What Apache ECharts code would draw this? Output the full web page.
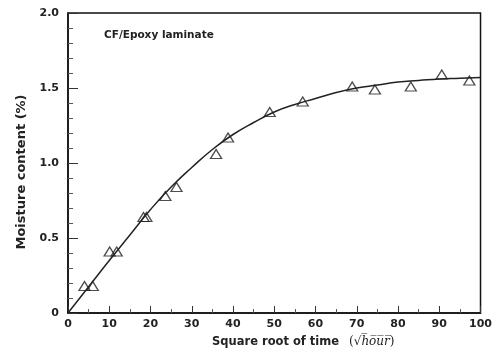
<!DOCTYPE html>
<html><head><meta charset="utf-8">
<script src="https://cdn.jsdelivr.net/npm/echarts@6/dist/echarts.min.js"></script>
<style>html,body{margin:0;padding:0;background:#fff}#c{width:495px;height:354px}</style>
</head><body><div id="c"></div>
<script>
// measured data (square root of time, moisture content %)
var dataX = [4, 6, 10.1, 11.8, 18.3, 19, 23.6, 26.3, 35.9, 38.8, 48.9, 56.9, 68.9, 74.4, 83.1, 90.6, 97.3];
var dataY = [0.18, 0.18, 0.41, 0.41, 0.64, 0.64, 0.78, 0.84, 1.06, 1.17, 1.34, 1.41, 1.51, 1.49, 1.51, 1.59, 1.55];
// fitted curve
var curveX = [0, 5, 10, 15, 20, 25, 30, 35, 40, 45, 50, 55, 60, 65, 70, 75, 80, 85, 90, 95, 100];
var curveY = [0, 0.175, 0.35, 0.52, 0.69, 0.84, 0.97, 1.09, 1.19, 1.27, 1.34, 1.39, 1.43, 1.47, 1.50, 1.52, 1.54, 1.55, 1.56, 1.565, 1.57];
var xTicks = [0, 10, 20, 30, 40, 50, 60, 70, 80, 90, 100];
var yTicks = ['0', '0.5', '1.0', '1.5', '2.0'];

var pts = dataX.map(function (x, i) { return [x, dataY[i]]; });
var curve = curveX.map(function (x, i) { return [x, curveY[i]]; });
var font = 'DejaVu Sans';
var chart = echarts.init(document.getElementById('c'));
chart.setOption({
  animation: false,
  backgroundColor: '#fff',
  grid: { left: 68, right: 11, top: 13, bottom: 41, show: true, borderColor: '#111', borderWidth: 1.5 },
  title: { text: 'CF/Epoxy laminate', left: 99, top: 25,
    textStyle: { fontFamily: font, fontWeight: 'bold', fontSize: 10.5, color: '#222' } },
  xAxis: {
    type: 'value', min: 0, max: 100, interval: 10,
    axisLine: { lineStyle: { color: '#111', width: 1.5 } },
    axisTick: { inside: true, length: 7, lineStyle: { color: '#333' } },
    minorTick: { show: true, splitNumber: 2, length: 4, lineStyle: { color: '#555' } },
    splitLine: { show: false },
    axisLabel: { fontFamily: font, fontWeight: 'bold', fontSize: 11, color: '#222', margin: 6,
      formatter: function (v) { return xTicks.indexOf(v) >= 0 ? String(v) : ''; } },
    name: '{a|Square root of time}   {b|(√}{c|h̅o̅u̅r̅}{b|)}',
    nameLocation: 'middle', nameGap: 23,
    nameTextStyle: { padding: [0, 0, 0, 58], rich: {
      a: { fontFamily: font, fontWeight: 'bold', fontSize: 11.5, color: '#222' },
      b: { fontFamily: 'DejaVu Serif', fontSize: 12, color: '#222' },
      c: { fontFamily: 'DejaVu Serif', fontStyle: 'italic', fontSize: 12, color: '#222' } } }
  },
  yAxis: {
    type: 'value', min: 0, max: 2, interval: 0.5,
    axisLine: { lineStyle: { color: '#111', width: 1.5 } },
    axisTick: { inside: true, length: 10, lineStyle: { color: '#333' } },
    minorTick: { show: true, splitNumber: 5, length: 5, lineStyle: { color: '#555' } },
    splitLine: { show: false },
    axisLabel: { fontFamily: font, fontWeight: 'bold', fontSize: 11, color: '#222', margin: 9,
      formatter: function (v) { return yTicks[Math.round(v * 2)]; } },
    name: 'Moisture content (%)', nameLocation: 'middle', nameGap: 40, nameRotate: 90,
    nameTextStyle: { fontFamily: font, fontWeight: 'bold', fontSize: 13, color: '#222', padding: [0, 18, 0, 0] }
  },
  series: [
    { type: 'line', data: curve, smooth: true, symbol: 'none',
      lineStyle: { color: '#222', width: 1.5 }, z: 2 },
    { type: 'scatter', data: pts, symbol: 'triangle', symbolSize: [11, 9],
      itemStyle: { color: 'rgba(255,255,255,0)', borderColor: '#222', borderWidth: 1.3 }, z: 3 }
  ]
});
</script></body></html>
